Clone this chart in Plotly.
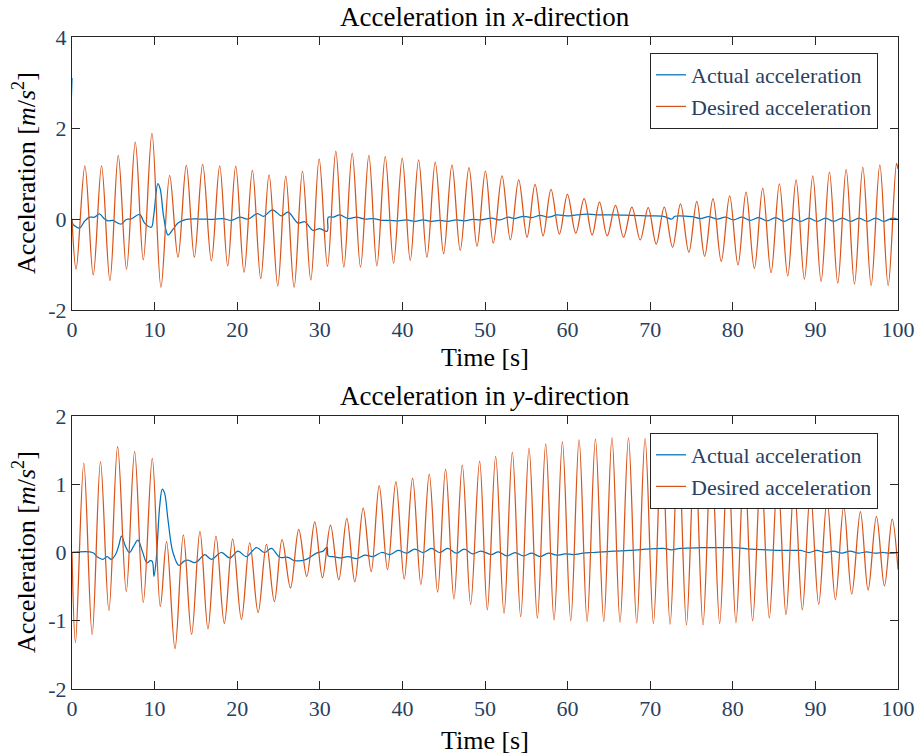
import plotly.graph_objects as go

# ---- data: (time [s], acceleration [m/s^2]) turning points of each signal ----
x_desired = [
    (0, 0), (0.5, -1.1), (1.56, 1.17), (2.57, -1.23), (3.58, 1.17), (4.59, -1.35),
    (5.6, 1.40), (6.6, -1.1), (7.66, 1.69), (8.63, -0.90), (9.68, 1.88), (10.77, -1.5),
    (11.82, 0.96), (12.83, -0.84), (13.84, 1.18), (14.81, -0.84), (15.82, 1.20),
    (16.87, -0.92), (17.88, 1.17), (18.85, -1.03), (19.82, 1.16), (20.83, -1.17),
    (21.84, 1.07), (22.85, -1.31), (23.86, 0.97), (24.91, -1.47), (25.88, 0.94),
    (26.89, -1.5), (27.90, 1.05), (28.91, -1.34), (29.92, 1.32), (30.93, -1.04),
    (31.94, 1.49), (32.91, -1.06), (33.92, 1.45), (34.93, -1.06), (35.94, 1.40),
    (36.91, -1.03), (37.92, 1.37), (38.93, -0.97), (39.98, 1.34), (40.95, -0.91),
    (41.96, 1.30), (42.97, -0.84), (43.98, 1.25), (44.99, -0.76), (46.0, 1.19),
    (47.0, -0.69), (48.06, 1.13), (49.03, -0.60), (50.05, 1.05), (51.0, -0.53),
    (52.06, 0.95), (53.07, -0.46), (54.08, 0.86), (55.09, -0.40), (56.06, 0.76),
    (57.03, -0.37), (57.99, 0.65), (59.01, -0.33), (59.98, 0.54), (60.99, -0.31),
    (62.0, 0.45), (62.97, -0.35), (63.86, 0.37), (64.79, -0.37), (65.80, 0.30),
    (66.77, -0.40), (67.78, 0.26), (68.79, -0.46), (69.76, 0.25), (70.73, -0.55),
    (71.70, 0.26), (72.71, -0.62), (73.67, 0.33), (74.68, -0.73), (75.64, 0.39),
    (76.59, -0.82), (77.6, 0.45), (78.6, -0.93), (79.62, 0.51), (80.63, -1.01),
    (81.60, 0.59), (82.61, -1.09), (83.62, 0.68), (84.63, -1.18), (85.64, 0.77),
    (86.65, -1.25), (87.66, 0.86), (88.67, -1.32), (89.68, 0.95), (90.69, -1.37),
    (91.7, 1.03), (92.71, -1.41), (93.72, 1.09), (94.73, -1.43), (95.74, 1.14),
    (96.75, -1.46), (97.80, 1.19), (98.81, -1.46), (99.82, 1.22), (100, 1.1),
]

x_actual = [
    (0, 3.1), (0.08, -0.1), (0.42, -0.16), (0.91, -0.2), (1.52, -0.05), (2.12, 0.04),
    (2.73, 0.04), (3.33, 0.11), (3.94, 0.0), (4.34, -0.04), (4.95, -0.03), (5.56, -0.09),
    (5.96, -0.11), (6.57, -0.01), (7.17, 0.0), (8.18, 0.1), (8.79, -0.09), (9.6, -0.18),
    (9.88, 0.06), (10.4, 0.78), (10.69, 0.65), (11.09, 0.06), (11.62, -0.35),
    (12.22, -0.23), (12.83, -0.09), (13.84, -0.01), (15.45, 0.0), (17.07, -0.01),
    (18.28, 0.01), (19.29, -0.03), (20.3, 0.04), (21.31, 0.0), (22.44, 0.12),
    (23.21, 0.06), (24.26, 0.2), (25.35, 0.07), (26.16, 0.15), (27.38, -0.09),
    (28.18, -0.06), (29.19, -0.25), (30.0, -0.21), (30.9, -0.27), (31.02, 0.04),
    (31.62, 0.04), (32.42, 0.09), (33.43, 0.01), (34.44, 0.04), (35.45, 0.0),
    (36.46, 0.01), (37.47, -0.03), (38.5, -0.03), (39.5, -0.04), (40.5, -0.02),
    (41.5, -0.05), (42.5, -0.02), (43.5, -0.05), (44.5, -0.03), (45.5, -0.05),
    (46.5, -0.02), (47.5, -0.04), (48.5, -0.01), (49.4, -0.02), (50.8, 0.02),
    (51.8, -0.02), (52.8, 0.04), (53.6, 0.01), (54.65, 0.06), (55.66, 0.03),
    (56.67, 0.08), (57.7, 0.04), (58.7, 0.09), (59.9, 0.07), (61.1, 0.09),
    (62.3, 0.11), (63.5, 0.09), (65.55, 0.09), (67.6, 0.08), (69.6, 0.07),
    (71.6, 0.06), (72.6, 0.0), (73.0, 0.06), (75.06, 0.05), (76.07, 0.01),
    (77.08, 0.05), (78.09, 0.0), (79.1, 0.04), (80.1, -0.02), (81.12, 0.04),
    (82.1, -0.03), (83.14, 0.03), (84.15, -0.04), (85.17, 0.03), (86.2, -0.05),
    (87.19, 0.02), (88.2, -0.05), (89.21, 0.02), (90.2, -0.05), (91.23, 0.02),
    (92.2, -0.05), (93.25, 0.02), (94.3, -0.05), (95.27, 0.02), (96.3, -0.05),
    (97.29, 0.02), (98.3, -0.05), (99.3, 0.02), (100, -0.01),
]

y_desired = [
    (0, 0), (0.42, -1.32), (1.43, 1.31), (2.44, -1.20), (3.45, 1.33), (4.47, -0.85),
    (5.52, 1.55), (6.57, -0.57), (7.58, 1.48), (8.63, -0.73), (9.72, 1.38),
    (10.69, -0.79), (11.45, 0.16), (12.47, -1.41), (13.48, 0.26), (14.48, -1.2),
    (15.49, 0.31), (16.46, -1.12), (17.43, 0.24), (18.44, -1.04), (19.45, 0.20),
    (20.51, -0.98), (21.52, 0.14), (22.53, -0.88), (23.54, 0.12), (24.5, -0.72),
    (25.43, 0.19), (26.45, -0.52), (27.45, 0.34), (28.42, -0.35), (29.39, 0.45),
    (30.32, -0.37), (31.29, 0.40), (32.30, -0.40), (33.27, 0.50), (34.24, -0.43),
    (35.25, 0.65), (36.22, -0.28), (37.19, 0.98), (38.2, -0.25), (39.21, 1.04),
    (40.22, -0.39), (41.23, 1.09), (42.24, -0.47), (43.25, 1.15), (44.26, -0.58),
    (45.23, 1.22), (46.24, -0.68), (47.25, 1.28), (48.26, -0.76), (49.35, 1.34),
    (50.28, -0.84), (51.29, 1.41), (52.3, -0.89), (53.31, 1.47), (54.32, -0.94),
    (55.33, 1.53), (56.34, -0.96), (57.35, 1.59), (58.36, -0.99), (59.37, 1.62),
    (60.38, -1.0), (61.39, 1.65), (62.36, -1.01), (63.37, 1.66), (64.38, -1.01),
    (65.37, 1.68), (66.35, -1.02), (67.37, 1.68), (68.37, -1.03), (69.38, 1.67),
    (70.39, -1.04), (71.4, 1.65), (72.41, -1.05), (73.4, 1.62), (74.39, -1.06),
    (75.4, 1.58), (76.39, -1.06), (77.4, 1.52), (78.41, -1.04), (79.4, 1.45),
    (80.38, -1.03), (81.39, 1.36), (82.40, -1.0), (83.41, 1.25), (84.42, -0.96),
    (85.43, 1.13), (86.44, -0.91), (87.43, 1.01), (88.42, -0.84), (89.39, 0.89),
    (90.4, -0.76), (91.41, 0.77), (92.42, -0.69), (93.43, 0.68), (94.4, -0.61),
    (95.45, 0.60), (96.38, -0.55), (97.39, 0.53), (98.36, -0.49), (99.29, 0.49),
    (100, -0.25),
]

y_actual = [
    (0, 0), (2.5, 0.0), (3.13, -0.07), (3.74, -0.1), (4.26, -0.06), (4.75, -0.1),
    (5.27, -0.03), (5.68, 0.11), (6.0, 0.24), (6.48, 0.09), (6.97, 0.0), (7.45, 0.09),
    (7.98, 0.18), (8.51, 0.02), (9.07, -0.15), (9.47, -0.12), (9.72, -0.13),
    (9.92, -0.35), (10.2, -0.1), (10.61, 0.67), (10.93, 0.93), (11.21, 0.87),
    (11.62, 0.48), (12.22, 0.0), (12.95, -0.19), (13.52, -0.13), (14.04, -0.11),
    (14.85, -0.15), (15.45, -0.1), (16.06, -0.03), (16.87, -0.1), (18.08, 0.0),
    (19.09, -0.08), (20.1, 0.02), (21.11, -0.06), (22.32, 0.07), (23.33, 0.0),
    (24.14, 0.06), (25.15, -0.07), (26.16, -0.07), (26.97, -0.12), (28.38, -0.10),
    (29.6, -0.01), (30.4, 0.02), (30.89, 0.08), (31.01, -0.05), (31.62, -0.06),
    (32.42, -0.08), (33.43, -0.06), (34.44, -0.09), (35.45, -0.04), (36.46, -0.06),
    (37.47, 0.0), (38.5, -0.03), (39.5, 0.03), (40.5, -0.01), (41.5, 0.05),
    (42.5, 0.0), (43.53, 0.06), (44.5, 0.0), (45.5, 0.06), (46.5, -0.01),
    (47.5, 0.05), (48.5, -0.02), (49.5, 0.02), (50.81, -0.03), (51.61, 0.01),
    (52.63, -0.05), (53.64, 0.0), (54.65, -0.05), (55.66, -0.01), (56.67, -0.06),
    (57.68, -0.01), (58.69, -0.04), (59.7, -0.02), (60.7, -0.03), (61.9, -0.01),
    (63.1, 0.0), (65.5, 0.02), (67.5, 0.03), (69.5, 0.05), (71.6, 0.06),
    (72.6, 0.04), (73.6, 0.06), (76.06, 0.07), (80.1, 0.07), (82.1, 0.05),
    (84.1, 0.04), (86.2, 0.03), (88.2, 0.03), (89.2, 0.0), (90.2, 0.03),
    (91.2, 0.0), (92.2, 0.02), (93.2, -0.01), (94.2, 0.02), (95.2, -0.01),
    (96.2, 0.01), (97.2, -0.01), (98.2, 0.0), (99.0, -0.01), (100, 0.0),
]

series_names = ["Actual acceleration", "Desired acceleration"]
x_ticks = list(range(0, 101, 10))
top_y_ticks = [-2, 0, 2, 4]
bottom_y_ticks = [-2, -1, 0, 1, 2]

# ---- styling ----
BLUE = "#0072BD"
ORANGE = "#D95319"
AXIS = "#262626"
FONT = "Liberation Serif"

W, H = 918, 756
ML, MR, MT, MB = 72, 20, 37, 67
PW, PH = W - ML - MR, H - MT - MB


def px(xpix):
    return (xpix - ML) / PW


def py(ypix):
    return (H - MB - ypix) / PH


fig = go.Figure()


def add_series(points, color, name, xa, ya, legend):
    fig.add_trace(go.Scatter(
        x=[p[0] for p in points], y=[p[1] for p in points],
        mode="lines", name=name,
        line=dict(color=color, width=1.25, shape="spline", smoothing=1.0),
        xaxis=xa, yaxis=ya, legend=legend,
    ))


add_series(x_actual, BLUE, series_names[0], "x", "y", "legend")
add_series(x_desired, ORANGE, series_names[1], "x", "y", "legend")
add_series(y_actual, BLUE, series_names[0], "x2", "y2", "legend2")
add_series(y_desired, ORANGE, series_names[1], "x2", "y2", "legend2")


def axis(domain, anchor, rng, ticks):
    return dict(
        domain=domain, anchor=anchor, range=rng,
        tickvals=ticks, ticktext=[str(v) for v in ticks],
        showline=True, linecolor=AXIS, linewidth=1, mirror="ticks",
        ticks="inside", ticklen=8, tickcolor=AXIS,
        showgrid=False, zeroline=False,
        tickfont=dict(family=FONT, size=22),
    )


def legend_at(xpix, ypix):
    return dict(
        x=px(xpix), y=py(ypix), xanchor="right", yanchor="top",
        bgcolor="white", bordercolor=AXIS, borderwidth=1,
        font=dict(family=FONT, size=22),
    )


fig.update_layout(
    width=W, height=H,
    margin=dict(l=ML, r=MR, t=MT, b=MB, autoexpand=False),
    paper_bgcolor="white", plot_bgcolor="white",
    xaxis=axis([0, 1], "y", [0, 100], x_ticks),
    yaxis=axis([py(310), 1.0], "x", [-2, 4], top_y_ticks),
    xaxis2=axis([0, 1], "y2", [0, 100], x_ticks),
    yaxis2=axis([0.0, py(416)], "x2", [-2, 2], bottom_y_ticks),
    legend=legend_at(878, 53),
    legend2=legend_at(878, 433),
)

ylabel = "Acceleration [<i>m</i>/<i>s</i><sup>2</sup>]"
# (text, centre x px, centre y px, rotation, font size)
text_items = [
    ("Acceleration in <i>x</i>-direction", 485, 17, 0, 27),
    ("Acceleration in <i>y</i>-direction", 485, 396, 0, 27),
    ("Time [s]", 485, 357, 0, 26),
    ("Time [s]", 485, 740, 0, 26),
    (ylabel, 24, 173, -90, 26),
    (ylabel, 24, 552, -90, 26),
]
anns = []
for text, xpix, ypix, angle, size in text_items:
    anns.append(dict(text=text, x=px(xpix), y=py(ypix), xref="paper", yref="paper",
                     xanchor="center", yanchor="middle",
                     showarrow=False, textangle=angle,
                     font=dict(family=FONT, size=size, color="black")))
fig.update_layout(annotations=anns)

fig.write_html("out.html")
